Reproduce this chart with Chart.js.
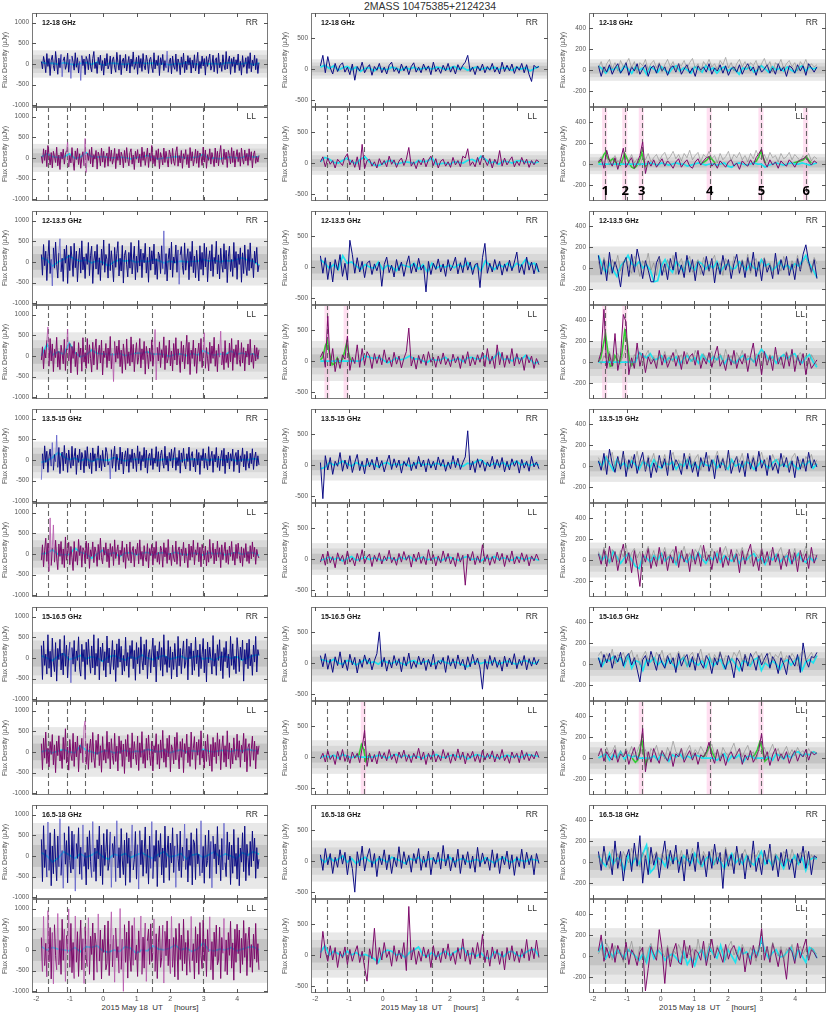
<!DOCTYPE html>
<html>
<head>
<meta charset="utf-8">
<script src="https://cdn.jsdelivr.net/npm/chart.js@4.4.1/dist/chart.umd.min.js"></script>
<style>
  body { margin: 0; width: 830px; height: 1014px; background: #fff; position: relative; overflow: hidden;
         font-family: 'Liberation Sans', Arial, sans-serif; }
  canvas { position: absolute; }
  .title { position: absolute; top: 0; left: 330px; width: 200px; text-align: center; font-size: 10.5px; color: #333; line-height: 12px; }
  .xtitle { position: absolute; top: 1002px; text-align: center; font-size: 8px; color: #333; white-space: pre; line-height: 11px; }
</style>
</head>
<body>
<div class="title">2MASS 10475385+2124234</div>
<div class="xtitle" style="left:32px;width:236px">2015 May 18  UT     [hours]</div>
<div class="xtitle" style="left:311px;width:237px">2015 May 18  UT     [hours]</div>
<div class="xtitle" style="left:589px;width:237px">2015 May 18  UT     [hours]</div>
<script>
// 観測時間 (UT, hours) と軸の範囲
const T_START = -1.85, T_END = 4.65;
const X_MIN = -2.13, X_MAX = 4.92;
const xTicks = [-2, -1, 0, 1, 2, 3, 4];
const bandNames = ['12-18 GHz', '12-13.5 GHz', '13.5-15 GHz', '15-16.5 GHz', '16.5-18 GHz'];
const eventTimes = [-1.64, -1.07, -0.56, 1.46, 2.98];
const eventTimesC3 = [-1.65, -1.05, -0.56, 1.46, 3.0, 4.33];
const eventNames = ['1', '2', '3', '4', '5', '6'];

// ノイズレベル (1σ, μJy) 各周波数帯
const sigmaC1RR = [110, 190, 148, 210, 265], sigmaC1LL = [113, 190, 165, 200, 265];
const sigmaC2RR = [52, 105, 83, 100, 110],   sigmaC2LL = [63, 107, 85, 90, 121];
const sigmaC3RR = [34, 68, 50, 56, 75],      sigmaC3LL = [32, 66, 55, 51, 88];

// ===== 左列 =====
const c1rr1 = [60,-120,180,40,-210,250,-60,130,-280,90, 210,-40,-170,300,20,-250,140,-90,230,-310, 80,170,-130,-30,260,-200,110,-350,190,40, -150,270,-80,150,-220,60,-400,200,-40,120, -260,180,90,-140,240,-70,-190,130,300,-110, 40,-230,160,-20,210,-160,80,-270,140,-50, 250,-120,-30,190,-240,100,170,-80,-200,280, 30,-150,220,-260,70,140,-100,230,-170,10, 180,-220,120,-60,290,-130,-30,160,-250,200, -90,130,-180,250,-40,-140,210,60,-230,110,
  160,-70,-210,270,-120,90,-40,200,-280,150, -20,230,-160,80,-90,310,-200,50,140,-240, 190,-50,-130,240,-180,120,20,-260,170,-80, 260,-210,70,-140,200,-30,150,-220,90,-100, 220,-170,30,280,-240,60,-110,190,-50,130, -270,180,-60,100,240,-150,-40,210,-190,80, 150,-230,260,-90,40,-180,220,-20,-140,300, -120,70,190,-250,130,-60,170,-210,100,-30, 240,-160,60,-270,200,-80,-10,150,-230,180, -110,270,-190,90,-50,210,-140,130,-230,30];
const c1rr1Fit = [40,10,20,-10,30,0,-20,10,30,-10, 40,-30,10,20,0,-10,10,30,20,10, 20,0,10,-20,10,0,30,10,-10,20, 0,10,-10,20,30,10,0,30,-20,20];
const c1ll1 = [40,-130,220,-60,190,-210,300,80,-170,130, -240,160,30,-110,260,-190,70,-280,140,-30, 210,-150,90,180,380,-220,60,-120,250,-80, -300,170,-40,230,-160,100,-250,20,150,-190, 470,-350,120,-60,200,-140,260,-220,80,-30, 180,-270,140,50,-190,240,-100,160,-230,30, 120,-200,270,-80,190,-150,-20,230,-260,100, -60,210,-170,140,40,-240,180,-110,250,-40, -190,130,220,-150,70,-280,160,-30,200,-120, 90,-210,260,-60,150,-180,30,240,-230,120,
  -80,300,-140,60,-200,180,-40,220,-260,130, 10,-170,240,-110,160,-30,-220,190,80,-150, 230,-90,-180,140,270,-200,60,-120,180,-250, 100,-30,200,-160,80,-240,250,-70,150,-190, -40,210,-130,170,-230,120,40,-180,260,-100, 190,-250,80,-60,220,-150,130,-20,-210,240, -120,160,-190,90,300,-80,-160,210,-40,140, -230,180,60,-140,250,-110,170,-220,30,200, -90,130,-200,240,-30,-150,190,-70,110,-180, 220,-60,150,-240,80,170,-130,40,-100,60];
const c1ll1Fit = [20,100,30,10,20,100,-10,20,130,30, 20,30,10,0,20,10,-20,10,20,60, 10,-20,0,10,30,20,0,10,20,90, -10,0,-20,10,20,0,10,60,20,30];
const c1rr2 = [180,-320,420,-90,260,-450,130,520,-280,60, -580,340,-150,480,-60,-390,220,560,-240,90, -470,310,-30,400,-520,170,-210,380,80,-350, 450,-140,260,-480,30,330,-270,510,-190,120, -400,200,-60,470,-330,150,380,-520,40,260, -170,420,-300,100,-450,310,-80,530,-250,180, 60,-390,440,-210,270,-60,-480,350,-130,200, 490,-340,90,-220,400,-510,160,280,-70,-360, 230,-150,470,-290,50,380,-430,140,-250,520, -100,310,-380,210,-20,450,-270,110,-490,360,
  -200,270,-50,430,-310,80,-420,240,150,-280, 390,-160,750,-300,200,-460,60,330,-190,480, -370,120,-30,410,-250,290,-540,170,370,-90, -300,460,-200,70,320,-430,250,-110,500,-260, 140,-380,280,-50,-460,390,-180,230,-320,450, -120,350,-480,60,270,-220,420,-350,110,-40, 500,-290,170,-410,330,-60,-250,440,-170,280, -500,120,380,-230,60,-350,470,-140,250,-420, 190,-60,340,-490,220,-280,410,-100,-330,300, -210,460,-150,80,-380,260,-30,350,-240,-80];
const c1rr2Fit = [100,50,-100,0,60,150,60,20,50,-20, 30,-10,-100,0,50,20,40,-10,30,0, 60,30,-20,20,-10,20,0,10,20,60, 20,40,0,30,20,60,100,40,20,-80];
const c1ll2 = [-100,220,-310,150,-50,380,700,-250,420,-120, 290,-380,160,-40,450,-270,110,-330,260,60, -190,400,-350,180,650,-120,300,-410,230,-60, 350,-260,90,-450,320,-30,190,-370,440,-150, 80,-300,420,-180,270,-60,-390,330,-220,150, 410,-330,40,260,-170,380,-460,120,-40,300, -280,190,-120,470,-310,60,-620,350,-150,240, -60,380,-260,140,-420,290,20,-330,410,-180, 100,-240,460,-150,280,-380,60,320,-200,-30, 420,-290,170,-90,350,-440,230,40,-310,190,
  -130,390,-250,80,640,-580,210,-120,340,-280, 150,-40,460,-330,250,-170,-60,380,-240,120, -360,300,-100,440,-220,170,-30,-400,350,-140, 260,-310,80,500,-200,330,-450,140,-60,380, -250,190,-420,60,310,-130,420,-280,90,560, -300,200,-70,-360,330,-180,240,-60,450,-250, 130,-380,280,-30,600,-220,100,-330,370,-160, 50,-280,310,-140,420,-350,160,-40,270,-200, 380,-90,-250,320,-170,200,-360,120,-30,290, -220,400,-150,60,-300,260,-120,200,-80,150];
const c1ll2Fit = [0,280,20,100,40,310,80,-20,20,140, 60,50,40,30,60,10,40,70,60,100, 40,50,30,-10,40,50,10,60,20,130, 60,20,50,30,120,40,70,30,50,-30];
const c1rr3 = [-480,150,-220,340,-60,210,-300,90,260,-150, 420,-250,130,-40,600,-180,300,-330,70,190, -260,350,-90,160,-300,240,-20,-200,330,-140, 80,280,-350,120,-60,260,-240,180,40,-310, 230,-150,320,-80,-210,170,-330,290,-30,150, -270,60,340,-190,110,-260,230,-50,-170,300, 180,-120,-40,-460,250,-200,80,330,-280,140, -20,-240,310,-100,190,-340,60,220,-150,280, -300,130,-60,260,-210,170,30,-280,340,-90, 200,-250,110,-40,300,-190,240,-320,80,160,
  -130,270,-230,50,-80,320,-160,200,-290,110, 240,-60,-200,330,-120,90,-270,180,-30,260, -190,140,300,-250,60,-140,230,-320,170,-60, 280,-100,-220,150,-40,310,-260,90,200,-170, 40,-290,250,-120,180,-350,110,-20,270,-200, 160,-80,-240,320,-140,60,210,-300,130,-50, 300,-180,90,-260,40,230,-150,280,-330,120, -70,190,-220,150,-30,260,-280,70,180,-120, 240,-310,100,-40,290,-170,130,-250,210,-60, -200,160,-90,270,-230,50,190,-150,100,-120];
const c1rr3Fit = [-60,-20,60,180,80,0,40,-20,30,-40, 20,0,-10,60,10,-20,10,20,0,20, 10,-10,20,0,30,-20,10,20,0,30, -10,20,10,0,20,-20,10,0,30,10];
const c1ll3 = [-150,220,-310,90,380,-180,260,-420,870,-280, 150,700,-200,330,-100,-380,240,-60,300,-250, 120,-330,410,-150,30,280,-260,180,-90,-400, 300,-180,60,-270,350,-40,200,-320,150,80, -230,310,-120,260,-350,100,-60,290,-210,170, 40,-300,230,-140,380,-90,-240,160,-30,270, -190,120,-330,250,-60,180,-280,340,-110,60, 220,-260,90,-40,310,-200,150,-350,240,-80, -160,290,-220,70,180,-310,110,-20,260,-240, 340,-130,60,-290,200,-80,-180,250,-340,130,
  -40,230,-270,160,-110,300,-200,40,-250,190, 90,-320,270,-70,150,-230,350,-140,20,-280, 210,-100,-190,310,-250,80,170,-300,120,-40, 280,-220,140,-60,-330,240,-150,190,-80,330, -260,100,-30,270,-190,160,-310,230,50,-140, 190,-290,80,-200,350,-110,-30,260,-240,120, -170,310,-80,150,-330,220,-140,60,280,-210, 100,-250,190,-60,300,-160,40,-270,230,-110, 260,-40,-220,170,-300,130,-90,250,-180,60, -230,200,-120,290,-70,160,-250,110,-40,-100];
const c1ll3Fit = [0,20,100,-10,-20,-10,140,40,0,-100, 0,90,-10,30,-60,20,30,-20,10,40, -30,20,30,-10,40,0,-20,20,10,-30, 30,0,20,-20,10,40,-10,20,30,-40];
const c1rr4 = [300,-520,410,-180,90,-390,560,-250,160,-460, 480,-100,-330,370,-560,230,-40,450,-290,120, -410,540,-200,310,-480,60,380,-600,250,-150, 420,-330,170,-60,510,-270,-440,330,-90,200, -520,380,-160,450,-30,-370,290,-240,560,-410, 110,-200,470,-530,260,-80,360,-300,150,-460, 530,-120,240,-390,-50,420,-280,190,-570,340, -230,460,-100,280,-410,60,-320,500,-190,130, -470,300,-20,420,-260,180,-540,370,-140,250, -380,510,-60,-290,330,-170,440,-500,90,200,
  -360,120,480,-220,300,-580,160,-40,390,-300, 250,-440,560,-160,40,-350,420,-230,270,-510, 140,-280,350,-70,-460,520,-190,230,-380,90, 410,-250,-100,460,-530,280,-20,360,-410,170, -300,500,-140,190,-450,330,-260,80,470,-360, 210,-580,380,-120,260,-30,-390,540,-200,110, -420,320,-60,440,-310,150,-500,250,-90,400, -240,90,-470,520,-180,340,-280,40,-380,490, 170,-330,260,-50,430,-560,200,-150,360,-260, 450,-190,80,-420,310,-100,520,-340,200,60];
const c1rr4Fit = [50,0,-60,40,100,-40,0,60,-20,30, 0,-80,20,60,0,-50,30,-20,70,0, -40,20,60,-30,0,40,-20,10,50,-30, 0,-60,20,40,-10,30,-50,0,60,80];
const c1ll4 = [200,-430,330,-150,480,-280,90,-360,250,-60, 420,-310,170,-500,260,-90,390,-220,30,-400, 350,-180,560,-270,120,-440,300,-60,-210,450, -350,240,-120,380,-480,160,-30,330,-260,600, 750,-300,200,-420,90,310,-250,470,-140,-380, 280,-60,430,-330,150,-490,370,-200,60,-270, 500,-160,240,-410,320,-90,-300,450,-230,140, -460,380,-40,270,-350,190,-520,300,-110,420, -240,100,-380,460,-170,250,-60,-310,380,-450, 220,-130,490,-280,60,-390,330,-200,410,-90,
  -330,260,-460,150,-20,440,-300,180,-410,290, -150,520,-250,80,-370,330,-120,400,-480,170, 60,-290,360,-190,470,-60,-410,250,-130,320, -500,200,-40,430,-260,120,-350,480,-180,90, 370,-420,240,-80,300,-310,510,-150,40,-390, 260,-230,420,-60,-340,180,-470,350,-120,230, -280,460,-100,300,-430,70,390,-250,150,-360, 510,-170,220,-400,90,-290,340,-60,-200,430, -130,270,-370,160,-30,450,-240,320,-480,110, 200,-350,60,380,-200,260,-410,140,-60,150];
const c1ll4Fit = [0,40,-20,20,60,0,-20,150,40,0, -40,20,30,-20,0,40,-10,20,0,60, 30,0,40,-20,20,50,0,30,10,60, 20,0,30,40,10,50,20,60,30,40];
const c1rr5 = [400,-620,730,-280,150,-510,820,-350,560,-720, 240,-430,650,-90,-600,480,-260,900,-470,130, -780,560,-200,370,-650,710,-110,-410,600,-320, 520,-850,300,-60,680,-440,210,-570,750,-250, 80,-700,460,-320,610,-140,-520,830,-380,190, -610,390,-70,720,-480,260,-690,540,-230,110, 640,-350,-150,580,-760,300,-40,470,-620,850, -290,200,-530,660,-100,-450,380,-710,560,-180, 430,-640,120,750,-340,-80,590,-560,270,-800, 610,-210,380,-490,60,700,-420,160,-680,480,
  -300,830,-550,250,-130,620,-740,370,-30,540, -460,190,-650,720,-280,90,480,-590,310,-170, 680,-400,240,-760,530,-60,-360,600,-520,210, -120,770,-330,420,-630,140,-230,560,-700,390, 320,-570,660,-190,40,-480,850,-410,230,-660, 500,-260,-110,620,-540,350,-770,480,-70,290, -430,710,-220,150,-600,420,-340,790,-160,-500, 580,-90,330,-690,260,-420,640,-250,60,-560, 440,-720,190,-150,560,-380,720,-600,280,-40, -470,350,-260,600,-120,430,-540,200,-310,-80];
const c1rr5Fit = [80,0,-150,-50,100,20,-60,50,-30,20, 100,-20,-80,40,0,60,-40,20,80,0, -60,40,100,-20,0,60,-80,20,50,-40, 30,100,-20,50,0,-60,80,20,100,40];
const c1ll5 = [300,-520,810,-380,160,-650,950,-290,540,-700, 420,-820,610,-140,-480,880,-360,230,-590,740, -250,500,-760,350,-80,990,-420,640,-550,180, -690,820,-300,440,-640,120,720,-480,270,-810, 560,-200,-400,780,-590,330,-110,650,-730,410, 160,-540,870,-270,480,-700,250,-60,600,-480, -330,700,-620,140,920,-410,360,-780,530,-190, 80,-560,1000,-470,260,-1000,610,-300,430,-680, 700,-150,-520,590,-370,780,-240,120,-640,460, -60,820,-590,310,-440,650,-760,220,500,-350,
  630,-280,-60,750,-520,390,-690,170,580,-420, -190,600,-800,450,-140,700,-380,260,-570,810, -420,300,-650,520,90,-720,640,-230,360,-500, 740,-330,180,-610,470,-90,-540,810,-260,150, -700,560,-310,380,-590,660,-140,-450,720,-270, 260,-640,490,-50,800,-480,200,-720,430,-160, 600,-360,-250,550,-690,300,-80,760,-520,240, -600,420,-130,690,-440,170,-730,500,-300,620, -90,480,-560,280,-350,710,-180,400,-620,230, 550,-420,130,-540,380,-220,640,-300,150,-480];
const c1ll5Fit = [80,0,60,20,0,-20,60,-40,80,60, 100,-20,-60,0,-40,80,40,-80,0,-20, 100,20,0,40,120,0,40,-40,20,170, 0,-20,20,0,60,-20,20,60,80,0];

// ===== 中央列 =====
const c2rr1 = [50,220,-60,200,20,-80,90,-40,60,100, -50,30,-90,80,-180,40,-30,110,-60,20, 70,-100,40,-20,90,-60,30,-80,60,110, -40,20,-70,80,-30,50,-90,40,100,-50, 30,-60,80,-20,50,-90,110,-40,20,-70, 60,-30,90,-50,40,-80,70,-20,60,110, 220,-40,30,-90,50,-30,80,-60,40,-20, 90,-50,30,-80,110,-40,60,-30,80,-70, 40,-20,90,-60,70,-90,-200,60,20,40];
const c2rr1Fit = [30,60,10,50,-20,20,40,-10,30,-40, 10,20,-30,20,0,-10,30,10,-20,20, 0,30,-10,10,20,0,30,20,-10,10, 40,0,20,-20,10,30,-10,20,0,30, -10,20,10,-20,30,0,20,-30,10,40];
const c2ll1 = [20,100,-60,80,-20,40,-80,60,10,-40, 90,150,-30,50,-70,100,-110,300,-90,40, 60,-50,20,-80,70,-30,40,-60,110,-20, 50,-70,30,80,-40,60,250,-50,20,-90, 40,-30,80,-60,50,110,-40,70,-80,30, 60,-50,20,-70,90,-30,40,-60,110,80, 230,-40,20,-60,90,-30,120,50,-40,70, -80,60,-20,200,-50,80,-30,40,100,-60, 30,-40,90,-20,60,-70,40,-30,50,20];
const c2ll1Fit = [20,90,60,10,0,40,80,20,-10,60, 100,20,-30,-40,-10,30,40,-20,0,20, 10,-10,40,20,30,80,-20,-10,0,-20, 20,10,0,40,60,20,110,60,0,20, -20,30,20,0,30,40,10,20,0,20];
const c2rr2 = [180,-100,150,-200,80,-240,120,-50,200,-150, 60,-210,430,200,-100,150,-80,90,-170,60, 100,-120,50,-60,80,-310,40,160,-90,30, -160,120,-60,80,-150,40,180,-100,60,-80, 140,-50,30,-400,90,-120,60,-40,130,-80, 50,-150,120,-60,30,160,-110,70,-90,150, -50,80,-120,40,60,-330,150,380,-100,60, -80,120,-40,90,-130,50,-70,110,-60,80, 240,-90,40,-120,160,-50,80,-110,60,-80];
const c2rr2Fit = [120,60,-20,40,-40,180,60,80,20,-40, 40,0,-20,80,-40,30,0,-60,40,20, 0,60,-30,40,-80,60,-20,20,0,30, -10,40,0,70,-40,30,-60,100,20,-40, 40,0,60,-20,60,20,120,40,60,-80];
const c2ll2 = [60,150,-100,720,-80,200,-170,50,-120,100, 30,400,-150,60,-40,260,-100,200,-60,150, 80,-120,120,-40,100,-60,180,-30,60,-90, 140,-50,80,-110,40,150,530,-80,60,-130, 90,-40,110,-70,150,-20,60,-100,80,-50, 130,-60,40,-90,110,-30,70,-120,90,-40, 150,-80,60,-60,100,-20,140,-90,200,-50, 80,-120,260,-60,140,-100,90,-40,200,-80, 120,-50,60,-150,100,-30,80,-120,40,-60];
const c2ll2Fit = [0,0,0,0,0,0,0,0,0,0, 80,60,40,60,20,-30,0,50,20,40, 80,30,40,0,-20,30,10,20,60,0, 20,40,-10,50,60,30,40,80,0,60, 140,20,40,0,60,20,90,30,-40,-10];
const c2ll2ModelT = [-1.85,-1.78,-1.7,-1.64,-1.58,-1.5,-1.42,-1.35,-1.28,-1.2,-1.13,-1.07,-1.01,-0.95,-0.88];
const c2ll2Model = [20,60,250,320,120,-60,-40,50,-20,20,150,290,120,0,0];
const c2rr3 = [40,-540,150,-80,120,-150,60,-20,200,-100, 80,-60,150,-120,40,170,-90,60,-140,110, -30,90,-80,130,-50,70,-110,40,160,-70, 100,-40,80,-130,60,-20,120,-90,50,-60, 140,-30,80,-110,100,-50,60,-80,130,-20, 90,-100,50,-60,150,-40,110,-70,40,130, 550,-80,60,-120,100,-40,80,-100,50,-30, 140,-60,90,-40,120,-110,60,-80,100,-20, 70,-130,90,-50,60,-100,140,-30,50,-60];
const c2rr3Fit = [-60,-40,40,0,20,60,20,-20,40,0, -20,30,10,-30,20,40,-10,20,0,30, -20,10,40,0,20,-10,30,10,-20,20, 40,0,-20,30,10,60,80,20,-10,30, 0,40,-20,20,60,0,30,-10,20,0];
const c2ll3 = [-50,80,-100,120,-60,40,-140,100,-30,60, -90,130,-50,20,-110,90,-40,150,-70,30, 80,-120,60,-40,100,-80,50,-30,140,-60, 30,-100,90,-50,120,-20,60,-130,80,-40, 110,-70,40,-90,150,-30,70,-110,50,-60, 130,-40,90,-80,30,-120,100,-50,60,-420, 80,-30,120,-90,50,-60,230,-40,70,-100, 40,-70,110,-30,90,-120,60,-50,130,-80, 40,-60,100,-40,70,-110,50,-30,80,-20];
const c2ll3Fit = [-20,0,30,-10,20,-30,10,40,-20,0, 30,-10,20,0,-30,20,10,-20,30,0, 40,-20,10,30,-10,0,20,-30,10,30, 0,-20,20,40,-10,10,-30,20,0,40, -10,20,0,-20,30,10,-10,20,0,-20];
const c2rr4 = [120,-60,150,-100,60,-150,100,-40,180,-80, 50,-120,140,-30,90,-160,60,-70,130,-20, 80,-110,40,150,500,-60,90,-130,50,-80, 120,-40,70,-140,100,-50,160,-90,30,-70, 110,-30,80,-120,60,-60,140,-100,40,-20, 90,-150,120,-50,70,-90,130,-40,60,-110, 100,-60,140,-30,80,-80,-420,60,-100,120, -40,90,-70,50,-130,110,-60,80,-30,150, -90,60,-40,120,-110,70,-50,90,-30,60];
const c2rr4Fit = [60,40,20,60,0,-20,40,20,-30,10, 60,0,20,-20,40,10,-10,30,0,-30, 20,40,-10,10,30,-20,0,40,10,-10, 20,0,-30,-60,10,30,-10,20,0,40, -20,10,30,0,-20,20,40,10,-10,30];
const c2ll4 = [-30,60,-80,100,-40,30,-120,90,-50,120, -70,40,-100,80,-20,60,-90,150,430,-150, 60,-80,40,-110,90,-30,70,-60,120,-40, 50,-100,80,-20,110,-70,40,-90,60,-30, 140,-50,80,-120,60,-40,100,-80,30,-60, 120,-30,70,-100,50,-60,130,-40,80,-110, 60,-20,90,-70,40,-90,110,-50,60,-30, 100,-80,50,-40,120,-60,30,-100,80,-20, 60,-90,110,-40,70,-60,40,-30,90,-10];
const c2ll4Fit = [-10,20,0,30,-20,40,10,-10,20,0, 0,0,0,30,10,-20,20,40,0,30, -10,20,0,-20,30,10,40,0,-10,20, 30,0,20,-30,10,40,20,-10,30,0, -20,10,30,0,20,-10,40,30,20,10];
const c2ll4ModelT = [-0.8,-0.7,-0.63,-0.56,-0.5,-0.42,-0.35];
const c2ll4Model = [0,40,200,120,-60,20,0];
const c2rr5 = [100,-150,200,-60,120,-200,60,-100,180,-50, 140,-220,80,-120,-500,150,-80,240,-160,60, 200,-100,120,-250,80,-60,180,-140,100,-200, 60,-90,230,-120,150,-60,90,-180,120,-40, 200,-150,80,-100,160,-220,60,-50,140,-130, 250,-80,110,-160,60,-100,190,-200,100,-60, 150,-120,80,-180,220,-90,130,-50,60,-150, 180,-100,120,-200,80,-60,160,-130,100,-230, 70,-90,190,-120,140,-60,90,-220,120,-40];
const c2rr5Fit = [40,-20,60,0,30,80,-20,40,-40,20, 60,0,-30,40,20,-20,60,30,0,-40, 40,10,60,-20,20,40,-10,30,0,60, -20,20,40,-10,0,30,-20,50,10,-30, 20,60,0,-20,40,10,-10,30,20,0];
const c2ll5 = [-50,380,60,-100,150,-80,120,-200,60,-50, 130,-150,90,-100,40,150,-120,60,-200,-420, 100,-60,430,-150,120,-80,200,-40,60,-180, 150,-100,80,-60,200,-250,780,-80,120,-150, 60,-100,130,-50,90,-200,150,-80,60,-120, 110,-60,180,-90,40,-150,120,-60,260,-100, 80,-150,120,-60,200,-50,330,-120,80,-180, 130,-60,90,-150,60,-240,120,-80,150,-100, 60,-120,100,-50,250,-90,130,-60,240,-40];
const c2ll5Fit = [40,150,0,60,20,-20,60,0,40,-10, 10,-20,-60,-120,40,80,60,0,20,-40, 40,80,130,0,-20,40,-30,20,60,-10, 40,80,120,0,30,-20,30,-40,-60,50, 20,-30,40,60,0,-20,40,80,90,-20];

// ===== 右列 (灰色 = 比較データ) =====
const c3rr1 = [40,-60,30,-20,50,-40,20,60,-30,10, 70,-50,30,-10,60,-40,10,50,-60,20, 40,-30,60,-10,30,-50,20,40,-20,60, -40,10,50,-30,20,-60,40,0,30,-20, 60,-40,20,-10,50,-30,40,-50,10,30, -20,50,-40,20,60,-10,30,-50,40,-20, 10,50,-30,20,-40,60,-10,30,-60,40, 20,-30,50,-10,40,-50,60,20,-20,30];
const c3rr1Ref = [20,80,-20,60,100,10,70,-10,90,30, 60,110,20,80,-30,70,40,100,0,60, 90,20,70,-20,50,100,30,80,-10,60, 40,90,10,70,110,20,60,-20,80,40, 100,30,60,0,90,50,120,20,70,-10, 60,100,30,80,10,70,40,90,0,60, 110,30,80,-20,70,40,100,10,60,90, 30,70,-10,80,40,100,20,60,30,50];
const c3rr1Fit = [40,10,-30,20,0,30,-20,40,10,-30, 30,0,20,-40,30,10,-20,30,0,-30, 20,40,-10,20,0,-30,30,10,-20,40, 0,20,-30,10,30,-10,20,0,-40,20, 10,30,-20,0,40,10,-20,30,0,20, -10,30,0,-20,20,40,-10,30,10,20];
const c3ll1 = [20,50,-40,130,30,-20,60,-50,40,150, -30,20,60,-40,10,80,210,-90,30,-20, 40,-30,10,50,-20,30,0,-40,20,50, -30,10,40,-20,-40,20,50,-10,30,60, 70,-20,10,-40,30,0,-30,20,40,-20, 10,-50,30,0,-20,40,-10,60,100,140, 20,-30,40,-10,20,-40,30,0,-20,40, 10,-30,20,40,50,70,20,-10,30,10];
const c3ll1Ref = [30,70,10,60,-10,40,80,20,50,0, 60,30,90,10,50,-20,70,40,100,20, 60,90,30,80,110,40,70,120,50,90, 30,100,60,130,40,80,110,20,90,60, 120,50,80,10,100,40,70,120,30,90, 60,110,40,80,20,100,50,130,70,40, 90,30,110,60,80,20,100,50,70,110, 40,90,60,30,80,50,100,30,70,50];
const c3ll1Fit = [0,0,0,0,0,0,0,0,0,0,0,0,0, 0,10,0,-10,10,0,-10,0,10,0, 0,-20,-10,0,10,0,-10,0,0,-10, 0,10,-20,-30,0,10,0,-10,0,10, 0,0,-30,-10,0,10,0,-10,0,10, 0,0,10,0,-10,0,10];
const c3ll1ModelT = [-1.85,-1.75,-1.69,-1.64,-1.58,-1.5,-1.42,-1.35,-1.28,-1.2,-1.13,-1.07,-1.01,-0.94,-0.86,-0.79,-0.72,-0.65,-0.6,-0.56,-0.51,-0.45,-0.4, 0.4, 1.2,1.3,1.38,1.46,1.54,1.62, 2.2, 2.75,2.85,2.92,2.98,3.05,3.12, 3.5, 3.95,4.05,4.15,4.25,4.33,4.4,4.48];
const c3ll1Model = [10,40,90,110,60,30,50,20,0,-10,40,100,60,10,-30,-40,-20,20,60,110,40,-20,0, null, 0,20,40,70,40,10, null, 10,30,70,120,60,10, null, 10,20,30,40,70,40,10];
const c3rr2 = [120,-60,80,-120,150,-50,60,-30,-180,40, 100,-80,130,-40,180,60,-100,70,-20,-130, -130,50,110,-70,40,-110,90,-20,150,-60, 30,-90,120,-40,80,-120,60,10,-70,110, -30,90,-140,50,-60,120,-20,80,-100,40, 130,-50,70,-90,100,-30,150,-80,60,-120, 90,-40,30,-100,140,-60,80,-20,110,-70, 40,-110,90,-30,130,220,60,-40,80,-100];
const c3rr2Ref = [60,-40,100,20,-60,80,10,120,-30,60, 90,0,-50,110,30,-80,70,20,140,-20, 50,-70,100,30,-40,80,0,120,-60,40, 90,-20,60,110,-40,30,80,-60,100,10, -30,70,120,-10,50,-70,90,30,-40,110, 60,-20,80,0,130,-50,40,90,-30,60, 100,-10,50,-60,80,30,-30,110,20,-40, 70,0,120,-20,60,90,30,-50,100,40];
const c3rr2Fit = [120,20,-40,40,-20,-80,20,60,120,40, 20,60,0,30,-20,-130,-120,20,80,0, -40,60,20,-30,80,10,-20,60,40,-10, 30,0,60,-30,20,40,-10,0,60,20, -20,40,0,-10,80,20,40,-20,10,60, 0,30,-10,40,20,60,120,40,-20,-90];
const c3ll2 = [0,100,500,-60,80,-40,270,-80,60,450, 380,-120,40,-60,180,-40,80,-100,50,-20, 30,-60,110,-30,70,-50,20,90,-40,60, -70,100,-20,50,80,-30,110,-60,40,-20, 90,-50,60,150,-40,20,-80,70,-30,110, -60,40,-20,80,-90,60,180,-40,70,-120, 100,-30,60,-80,140,-20,50,-60,90,-40, 120,-90,60,-30,80,-120,40,-60,-20,20];
const c3ll2Ref = [40,-20,60,20,100,-10,50,80,0,60, 120,20,-40,70,30,90,-20,60,110,10, 50,-30,80,20,100,-10,60,0,120,30, 70,-20,90,40,0,110,50,-30,80,20, 60,100,-10,40,80,0,120,20,60,-20, 90,30,110,-10,60,40,0,80,30,100, 50,-20,70,10,90,40,-30,60,100,20, 80,-10,50,90,30,60,-20,70,20,-30];
const c3ll2Fit = [0,0,0,0,0,0,0,0,0,0,0, 90,60,40,80,20,30,60,0,40,20, 50,-20,30,60,10,40,-10,70,30,0, 50,20,60,-20,40,10,-10,30,60,20, 40,0,60,120,80,20,50,-10,40,70, 30,60,80,20,-10,40,70,0,-50];
const c3ll2ModelT = [-1.85,-1.78,-1.71,-1.64,-1.57,-1.5,-1.43,-1.36,-1.29,-1.22,-1.15,-1.07,-1.0,-0.93,-0.86,-0.8];
const c3ll2Model = [0,40,150,270,100,-40,-30,60,20,-10,80,290,200,20,-30,0];
const c3rr3 = [50,-40,120,-80,160,20,-60,90,-30,140, -100,60,-20,110,-70,40,130,-50,80,-110, 30,-60,100,-20,70,-90,150,-40,60,10, -80,120,-30,90,-60,40,-100,80,-10,130, -50,60,-120,100,-20,70,-40,150,-70,30, 90,-60,50,-100,120,-30,80,-50,140,-20, 60,-90,100,-40,30,-70,120,-10,80,-60, 50,-110,90,-30,70,-50,130,-20,60,-10];
const c3rr3Ref = [80,20,-40,100,40,130,-20,70,10,110, 50,-30,90,30,140,0,60,-40,100,40, 120,-10,80,20,110,-30,70,130,10,60, -20,90,40,120,0,70,110,-40,80,30, 100,-10,60,140,20,80,-30,110,50,0, 90,40,120,-20,70,30,100,10,60,130, 20,80,-10,110,40,70,0,100,50,-30, 80,120,30,60,-20,90,40,110,10,60];
const c3rr3Fit = [40,0,80,20,-40,60,0,30,-20,50, 10,-30,40,20,-10,60,0,-20,30,10, 40,-30,20,0,60,-10,30,-20,40,10, 0,50,-20,30,10,-30,60,0,20,-10, 40,20,-30,0,50,10,-20,30,60,0, 20,-10,40,0,-30,30,10,50,-20,20];
const c3ll3 = [60,-40,100,-60,130,-20,80,-100,40,150, -30,70,-120,90,-50,-250,60,-20,110,-80, 30,-60,120,-40,80,-100,50,-30,130,-70, 90,-20,60,-110,100,-40,70,-60,140,-10, 50,-90,80,-30,120,-70,40,-50,100,-20, 60,-120,90,-40,70,150,-60,30,-100,110, -30,80,-50,120,-20,60,-90,40,-60,100, -40,70,-110,90,-20,60,-80,120,-30,50];
const c3ll3Ref = [80,0,120,40,-30,100,60,-20,90,30, 140,-10,70,110,20,80,-40,60,130,10, 90,-20,70,40,120,0,60,100,-30,80, 40,130,10,70,-20,100,60,140,20,80, -10,110,50,90,0,70,130,30,60,-20, 100,40,120,10,80,-30,90,60,20,110, 40,-20,80,100,30,70,120,0,60,90, 20,110,-10,80,40,130,20,70,50,40];
const c3ll3Fit = [60,0,40,-20,80,30,-30,20,60,0, -60,-80,40,20,-20,40,0,60,-10,30, 20,-40,50,10,-20,40,0,70,10,-30, 30,0,60,-20,40,10,-10,50,-30,20, 0,40,60,-10,20,-40,30,0,50,-20, 20,40,-30,10,60,0,-20,30,-10,20];
const c3rr4 = [60,-30,90,10,100,-40,80,20,110,-20, 70,100,-10,60,-50,-170,40,80,-20,120, 30,-60,90,10,-40,80,0,60,-80,100, -20,50,90,-30,70,-60,100,10,-40,80, 30,-90,60,-10,110,20,-50,80,0,-130, 60,20,-70,90,-20,100,40,-60,80,-10, 50,100,-40,70,20,-90,60,0,-100,80, 30,-20,90,-80,200,40,-30,70,60,110];
const c3rr4Ref = [80,120,20,100,40,140,0,90,60,110, 20,80,130,30,90,-10,70,120,40,90, 10,110,60,130,20,80,100,0,60,120, 40,90,-20,80,110,30,70,140,20,60, 100,10,90,40,120,0,80,60,30,110, 70,130,20,90,50,-10,80,120,40,100, 0,70,110,30,90,60,120,10,80,40, 100,60,-20,90,130,30,70,110,50,80];
const c3rr4Fit = [60,-20,40,30,70,20,60,-20,80,-40, 30,20,-60,40,20,60,-10,30,-20,50, 0,-40,30,60,-20,40,10,-10,30,-30, 60,-20,20,40,-40,10,50,0,-60,30, 20,-20,40,60,-60,10,-20,30,0,-50, 20,40,-10,30,60,-60,20,40,10,80];
const c3ll4 = [20,90,-30,60,10,-20,80,-40,40,10, 70,-60,30,100,-20,40,280,-130,60,-40, 90,10,-50,70,20,-30,60,-80,40,10, 90,-40,20,70,-20,50,-60,30,10,60, 150,20,-50,80,-30,40,-70,20,60,-10, 40,90,-60,30,-20,70,-40,10,80,230, -20,60,-70,30,90,-30,40,-10,60,-50, 20,70,-30,40,10,80,-20,60,30,50];
const c3ll4Ref = [40,80,0,100,30,60,120,-10,70,20, 90,40,110,10,60,130,30,80,-20,90, 50,120,20,70,-10,100,40,160,60,30, 90,0,70,120,20,80,40,110,60,10, 90,130,30,70,-10,100,50,20,80,140, 40,90,10,70,120,30,60,-20,80,50, 100,20,70,130,40,90,0,60,110,30, 80,20,100,50,70,10,90,40,60,50];
const c3ll4Fit = [0,20,40,-20,30,0,60,-10,30,10, 20,0,0,0,0,20,-20,40,10,-30, 30,10,40,-10,20,0,30,20,0,0, 0,0,-20,10,40,-30,20,0,30,-40, 10,20,0,0,0,0,10,-20,40,20, -10,30,0,50,60,20,40,30,60,40];
const c3ll4ModelT = [-0.85,-0.75,-0.68,-0.62,-0.56,-0.5,-0.44,-0.38, 0.5, 1.2,1.3,1.38,1.46,1.54,1.62, 2.2, 2.7,2.8,2.88,2.95,3.02,3.1,3.2];
const c3ll4Model = [0,-40,-20,60,180,40,-60,0, null, 0,20,60,120,50,0, null, 0,30,80,150,90,-30,0];
const c3rr5 = [100,-80,150,-30,60,-120,200,-60,100,-180, 40,120,-90,180,-40,250,-200,60,-120,140, -30,90,-150,40,200,-60,110,-20,160,-100, 50,-180,120,-40,80,-90,190,-30,60,-140, 100,-60,170,-20,90,-250,120,-40,70,-110, 150,-30,80,-160,60,-50,200,-90,40,-120, 110,-20,170,-80,60,-140,90,-40,120,-70, 30,-150,80,-10,150,-60,100,-120,60,40];
const c3rr5Ref = [60,-20,100,20,-60,120,0,80,-40,100, 40,-10,130,20,70,-50,90,30,140,-20, 60,100,-30,80,20,120,-40,60,90,0, 110,-20,70,30,130,-10,80,-50,100,40, 20,120,-30,90,60,0,140,20,-40,80, 100,-10,60,120,30,-30,90,50,110,-20, 70,20,130,-40,80,40,-10,100,60,0, 120,30,-20,90,50,110,-30,70,20,60];
const c3rr5Fit = [60,0,-40,80,-20,40,20,-80,60,-30, 40,-20,80,160,-100,-60,40,20,-40,60, 0,40,-20,60,20,-10,80,0,-40,30, 60,-20,40,0,-60,20,80,-10,30,-20, 60,0,-30,40,100,-20,20,-40,60,10, -60,30,0,60,-20,40,-80,20,40,30];
const c3ll5 = [50,200,-50,80,-20,120,-60,100,20,-40, 130,-80,60,10,-90,40,80,-330,-120,90, 20,-40,250,60,-260,80,-100,40,120,-60, -80,150,-20,100,-110,60,30,-40,140,-90, 40,160,-20,80,20,-60,110,-30,60,100, 20,-40,80,-150,30,-80,100,-20,60,260, -40,90,-60,120,20,-100,60,-30,-220,80, 40,-70,120,-20,70,160,-40,60,30,-20];
const c3ll5Ref = [20,80,-20,120,60,-40,100,20,60,-60, 80,40,140,0,-40,90,30,-60,60,120, 20,-20,80,40,-10,100,-50,60,20,110, 40,-30,90,10,70,-40,160,30,80,-20, 120,60,0,100,20,70,-40,90,140,10, 60,-30,110,40,-10,80,30,-50,100,60, 20,80,-20,130,40,0,90,-40,70,30, 110,-10,60,90,20,70,-30,80,40,20];
const c3ll5Fit = [40,120,-20,40,-10,60,20,-20,60,30, 0,-40,20,-60,80,-20,60,20,-40,0, 20,-20,-60,40,-80,-20,-90,20,60,-40, 80,20,-20,100,-40,60,0,-60,80,20, 40,-20,60,10,160,40,-20,30,60,-10, 0,40,80,-40,60,0,-60,80,60,-20];

// ===== レイアウト =====
const FONT = "'Liberation Sans', Arial, sans-serif";
const PAIR_TOPS = [13, 211, 409, 607, 805];
const PANEL_H = 94;
const COLS = [
  { left: 0,   axisW: 32, plotW: 236, yMin: -1040, yMax: 1230, yTicks: [-1000, -500, 0, 500, 1000], events: eventTimes, llOff: 12, rrOff: 10 },
  { left: 280, axisW: 31, plotW: 237, yMin: -610,  yMax: 900,  yTicks: [-500, 0, 500],              events: eventTimes, llOff: 11, rrOff: 10 },
  { left: 558, axisW: 31, plotW: 237, yMin: -350,  yMax: 540,  yTicks: [-200, 0, 200, 400],         events: eventTimesC3, llOff: 21, rrOff: 8 },
];
const COLORS = {
  RR: '#0d0d85', RRlight: 'rgba(90,90,200,0.75)',
  LL: '#7d0b6b', LLlight: 'rgba(180,80,170,0.75)',
  fit: '#1ee3ef', ref: 'rgba(125,125,125,0.6)', model: '#33cc33',
};

const PANELS = [
  { col: 0, row: 0, pol: 'RR', sig: sigmaC1RR[0], y: c1rr1, fit: c1rr1Fit },
  { col: 0, row: 0, pol: 'LL', sig: sigmaC1LL[0], y: c1ll1, fit: c1ll1Fit },
  { col: 0, row: 1, pol: 'RR', sig: sigmaC1RR[1], y: c1rr2, fit: c1rr2Fit },
  { col: 0, row: 1, pol: 'LL', sig: sigmaC1LL[1], y: c1ll2, fit: c1ll2Fit },
  { col: 0, row: 2, pol: 'RR', sig: sigmaC1RR[2], y: c1rr3, fit: c1rr3Fit },
  { col: 0, row: 2, pol: 'LL', sig: sigmaC1LL[2], y: c1ll3, fit: c1ll3Fit },
  { col: 0, row: 3, pol: 'RR', sig: sigmaC1RR[3], y: c1rr4, fit: c1rr4Fit },
  { col: 0, row: 3, pol: 'LL', sig: sigmaC1LL[3], y: c1ll4, fit: c1ll4Fit },
  { col: 0, row: 4, pol: 'RR', sig: sigmaC1RR[4], y: c1rr5, fit: c1rr5Fit },
  { col: 0, row: 4, pol: 'LL', sig: sigmaC1LL[4], y: c1ll5, fit: c1ll5Fit },

  { col: 1, row: 0, pol: 'RR', sig: sigmaC2RR[0], y: c2rr1, fit: c2rr1Fit },
  { col: 1, row: 0, pol: 'LL', sig: sigmaC2LL[0], y: c2ll1, fit: c2ll1Fit },
  { col: 1, row: 1, pol: 'RR', sig: sigmaC2RR[1], y: c2rr2, fit: c2rr2Fit },
  { col: 1, row: 1, pol: 'LL', sig: sigmaC2LL[1], y: c2ll2, fit: c2ll2Fit, modelT: c2ll2ModelT, model: c2ll2Model, pink: [0, 1] },
  { col: 1, row: 2, pol: 'RR', sig: sigmaC2RR[2], y: c2rr3, fit: c2rr3Fit },
  { col: 1, row: 2, pol: 'LL', sig: sigmaC2LL[2], y: c2ll3, fit: c2ll3Fit },
  { col: 1, row: 3, pol: 'RR', sig: sigmaC2RR[3], y: c2rr4, fit: c2rr4Fit },
  { col: 1, row: 3, pol: 'LL', sig: sigmaC2LL[3], y: c2ll4, fit: c2ll4Fit, modelT: c2ll4ModelT, model: c2ll4Model, pink: [2] },
  { col: 1, row: 4, pol: 'RR', sig: sigmaC2RR[4], y: c2rr5, fit: c2rr5Fit },
  { col: 1, row: 4, pol: 'LL', sig: sigmaC2LL[4], y: c2ll5, fit: c2ll5Fit },

  { col: 2, row: 0, pol: 'RR', sig: sigmaC3RR[0], y: c3rr1, fit: c3rr1Fit, ref: c3rr1Ref },
  { col: 2, row: 0, pol: 'LL', sig: sigmaC3LL[0], y: c3ll1, fit: c3ll1Fit, ref: c3ll1Ref, modelT: c3ll1ModelT, model: c3ll1Model, pink: [0, 1, 2, 3, 4, 5], numbers: true },
  { col: 2, row: 1, pol: 'RR', sig: sigmaC3RR[1], y: c3rr2, fit: c3rr2Fit, ref: c3rr2Ref },
  { col: 2, row: 1, pol: 'LL', sig: sigmaC3LL[1], y: c3ll2, fit: c3ll2Fit, ref: c3ll2Ref, modelT: c3ll2ModelT, model: c3ll2Model, pink: [0, 1] },
  { col: 2, row: 2, pol: 'RR', sig: sigmaC3RR[2], y: c3rr3, fit: c3rr3Fit, ref: c3rr3Ref },
  { col: 2, row: 2, pol: 'LL', sig: sigmaC3LL[2], y: c3ll3, fit: c3ll3Fit, ref: c3ll3Ref },
  { col: 2, row: 3, pol: 'RR', sig: sigmaC3RR[3], y: c3rr4, fit: c3rr4Fit, ref: c3rr4Ref },
  { col: 2, row: 3, pol: 'LL', sig: sigmaC3LL[3], y: c3ll4, fit: c3ll4Fit, ref: c3ll4Ref, modelT: c3ll4ModelT, model: c3ll4Model, pink: [2, 3, 4] },
  { col: 2, row: 4, pol: 'RR', sig: sigmaC3RR[4], y: c3rr5, fit: c3rr5Fit, ref: c3rr5Ref },
  { col: 2, row: 4, pol: 'LL', sig: sigmaC3LL[4], y: c3ll5, fit: c3ll5Fit, ref: c3ll5Ref },
];

/**
 * 観測区間を等間隔に並べた時刻ラベル
 */
function timeGrid(n) {
  return Array.from({ length: n }, (_, i) => T_START + i * (T_END - T_START) / (n - 1));
}

function toPoints(ys) {
  const t = timeGrid(ys.length);
  return ys.map((y, i) => ({ x: t[i], y }));
}

/**
 * 背景の σ 帯, 破線, 枠, 目盛り, ラベルを描くプラグイン
 */
function panelPlugin(p, col, isLL) {
  return {
    id: 'panelDecor',
    beforeDatasetsDraw(chart) {
      const { ctx, chartArea: a, scales: { x, y } } = chart;
      ctx.save();
      ctx.beginPath();
      ctx.rect(a.left, a.top, a.width, a.height);
      ctx.clip();
      // ±3σ, ±2σ, ±1σ の帯
      [[3, '#e8e8e8'], [2, '#d8d8d8'], [1, '#c4c4c4']].forEach(([k, c]) => {
        const y0 = y.getPixelForValue(k * p.sig);
        const y1 = y.getPixelForValue(-k * p.sig);
        ctx.fillStyle = c;
        ctx.fillRect(a.left, y0, a.width, y1 - y0);
      });
      // イベント位置の淡いピンク帯
      if (p.pink) {
        ctx.fillStyle = 'rgba(255,185,225,0.45)';
        p.pink.forEach(i => {
          const e = col.events[i];
          const x0 = x.getPixelForValue(e - 0.09), x1 = x.getPixelForValue(e + 0.06);
          ctx.fillRect(x0, a.top, x1 - x0, a.height);
        });
      }
      // イベント時刻の破線 (LLのみ)
      if (isLL) {
        ctx.strokeStyle = '#666';
        ctx.lineWidth = 1.1;
        ctx.setLineDash([5, 3]);
        col.events.forEach(e => {
          const px = Math.round(x.getPixelForValue(e)) + 0.5;
          ctx.beginPath();
          ctx.moveTo(px, a.top);
          ctx.lineTo(px, a.bottom);
          ctx.stroke();
        });
      }
      ctx.restore();
    },
    afterDatasetsDraw(chart) {
      const { ctx, chartArea: a, scales: { x, y } } = chart;
      ctx.save();
      // 枠
      ctx.strokeStyle = '#7a7a7a';
      ctx.lineWidth = 1;
      ctx.strokeRect(a.left + 0.5, a.top + 0.5, a.width - 1, a.height - 1);
      // 内向きの目盛り
      ctx.strokeStyle = '#555';
      ctx.beginPath();
      xTicks.forEach(v => {
        const px = Math.round(x.getPixelForValue(v)) + 0.5;
        ctx.moveTo(px, a.bottom); ctx.lineTo(px, a.bottom - 4);
        ctx.moveTo(px, a.top); ctx.lineTo(px, a.top + 4);
      });
      col.yTicks.forEach(v => {
        const py = Math.round(y.getPixelForValue(v)) + 0.5;
        ctx.moveTo(a.left, py); ctx.lineTo(a.left + 4, py);
        ctx.moveTo(a.right, py); ctx.lineTo(a.right - 4, py);
      });
      ctx.stroke();
      // ラベル
      ctx.textBaseline = 'middle';
      if (!isLL) {
        ctx.font = `bold 7px ${FONT}`;
        ctx.fillStyle = '#111';
        ctx.textAlign = 'left';
        ctx.fillText(bandNames[p.row], a.left + 10, a.top + 10);
      }
      ctx.font = `8.5px ${FONT}`;
      ctx.fillStyle = '#333';
      ctx.textAlign = 'right';
      ctx.fillText(p.pol, a.right - (isLL ? col.llOff : col.rrOff), a.top + 10);
      if (p.numbers) {
        ctx.font = `bold 13px 'Open Sans', ${FONT}`;
        ctx.fillStyle = '#000';
        ctx.textAlign = 'center';
        col.events.forEach((e, i) => ctx.fillText(eventNames[i], x.getPixelForValue(e), a.top + 84));
      }
      ctx.restore();
    }
  };
}

function drawPanel(p) {
  const col = COLS[p.col];
  const isLL = p.pol === 'LL';
  const isBottom = isLL && p.row === 4;
  const top = PAIR_TOPS[p.row] + (isLL ? PANEL_H : 0);
  const w = col.axisW + col.plotW + 3;
  const h = 8 + PANEL_H + (isBottom ? 14 : 8);

  const canvas = document.createElement('canvas');
  canvas.width = w;
  canvas.height = h;
  canvas.style.left = col.left + 'px';
  canvas.style.top = (top - 8) + 'px';
  canvas.style.width = w + 'px';
  canvas.style.height = h + 'px';
  document.body.appendChild(canvas);

  const main = isLL ? COLORS.LL : COLORS.RR;
  const light = isLL ? COLORS.LLlight : COLORS.RRlight;
  const datasets = [];
  if (p.ref) {
    datasets.push({ data: toPoints(p.ref), borderColor: COLORS.ref, borderWidth: 0.9 });
  }
  datasets.push({
    data: toPoints(p.y),
    borderColor: main,
    borderWidth: 1,
    // 左列は外れ値側を淡く
    segment: p.col === 0 ? {
      borderColor: c => (Math.abs(c.p0.parsed.y) > 2.8 * p.sig || Math.abs(c.p1.parsed.y) > 2.8 * p.sig) ? light : main,
    } : undefined,
  });
  datasets.push({ data: toPoints(p.fit), borderColor: COLORS.fit, borderWidth: 1.7 });
  if (p.model) {
    datasets.push({
      data: p.modelT.map((t, i) => ({ x: t, y: p.model[i] })),
      borderColor: COLORS.model, borderWidth: 1.6, spanGaps: false,
    });
  }

  new Chart(canvas, {
    type: 'line',
    data: { datasets },
    options: {
      responsive: false,
      animation: false,
      devicePixelRatio: 1,
      events: [],
      layout: { padding: { top: 8, bottom: isBottom ? 2 : 8, left: 0, right: 3 } },
      elements: { point: { radius: 0 }, line: { tension: 0 } },
      plugins: { legend: { display: false }, tooltip: { enabled: false } },
      scales: {
        x: {
          type: 'linear',
          min: X_MIN,
          max: X_MAX,
          display: isBottom,
          afterBuildTicks: s => { s.ticks = xTicks.map(v => ({ value: v })); },
          afterFit: isBottom ? (s => { s.height = 12; }) : undefined,
          grid: { display: false, drawTicks: false },
          border: { display: false },
          ticks: { font: { size: 7, family: FONT }, color: '#555', padding: 2, maxRotation: 0, autoSkip: false, callback: v => String(v) },
        },
        y: {
          min: col.yMin,
          max: col.yMax,
          afterBuildTicks: s => { s.ticks = col.yTicks.map(v => ({ value: v })); },
          afterFit: s => { s.width = col.axisW; },
          grid: { display: false, drawTicks: false },
          border: { display: false },
          ticks: { font: { size: 6.5, family: FONT }, color: '#555', padding: 3, callback: v => String(v) },
          title: { display: true, text: 'Flux Density (μJy)', font: { size: 7, family: FONT }, color: '#555', padding: { top: 1, bottom: 0 } },
        },
      },
    },
    plugins: [panelPlugin(p, col, isLL)],
  });
}

PANELS.forEach(drawPanel);
</script>
</body>
</html>
